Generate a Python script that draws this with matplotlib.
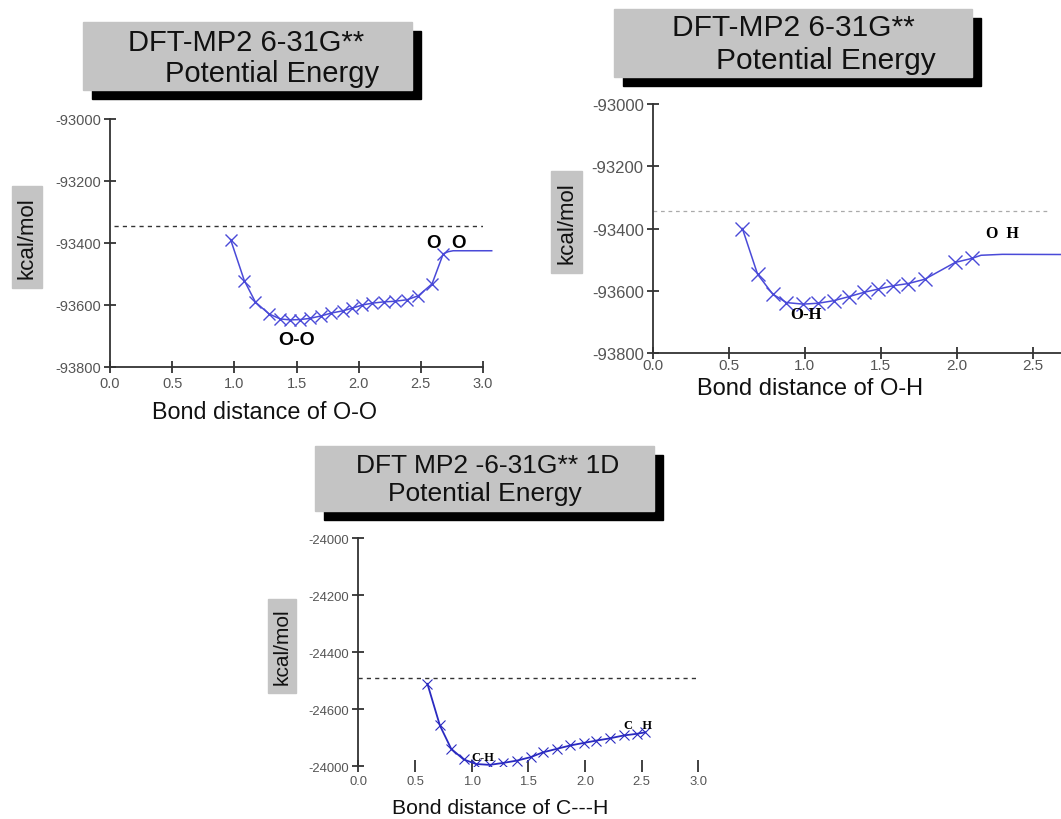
# 三个势能曲线图 (DFT-MP2 6-31G**)
import matplotlib
matplotlib.use("Agg")
from matplotlib import pyplot as plt
from matplotlib.patches import Rectangle

plt.rcParams['font.family'] = ['Liberation Sans', 'DejaVu Sans']

# O-O 键
oo_x = [0.97, 1.08, 1.17, 1.28, 1.37, 1.45, 1.53, 1.61, 1.70, 1.78, 1.87, 1.95,
        2.03, 2.11, 2.20, 2.29, 2.39, 2.48, 2.59, 2.68]
oo_y = [-93389, -93521, -93591, -93629, -93645, -93648, -93647, -93643, -93635,
        -93626, -93619, -93610, -93600, -93594, -93590, -93588, -93583, -93570,
        -93532, -93435]
oo_tail_x = [2.68, 2.72, 2.76, 3.07]
oo_tail_y = [-93435, -93428, -93425, -93425]
oo_dash = -93345

# O-H 键
oh_x = [0.59, 0.69, 0.79, 0.88, 0.99, 1.09, 1.19, 1.29, 1.39, 1.48, 1.58, 1.68,
        1.79, 1.99, 2.10]
oh_y = [-93400, -93547, -93611, -93638, -93643, -93640, -93632, -93619, -93605,
        -93595, -93584, -93577, -93563, -93509, -93496]
oh_tail_x = [2.10, 2.16, 2.30, 3.0]
oh_tail_y = [-93496, -93486, -93483, -93484]
oh_dash = -93344

# C-H 键
ch_x = [0.61, 0.72, 0.82, 0.93, 1.04, 1.16, 1.28, 1.40, 1.52, 1.63, 1.75, 1.87,
        1.99, 2.10, 2.22, 2.34, 2.46, 2.53]
ch_y = [-24511, -24657, -24739, -24776, -24792, -24795, -24788, -24780, -24768,
        -24751, -24739, -24727, -24718, -24710, -24702, -24692, -24686, -24681]
ch_dash = -24491

x_ticks = [0.0, 0.5, 1.0, 1.5, 2.0, 2.5, 3.0]
x_tick_labels = ["0.0", "0.5", "1.0", "1.5", "2.0", "2.5", "3.0"]
o_y_ticks = [-93800, -93600, -93400, -93200, -93000]
o_y_labels = ["-93800", "-93600", "-93400", "-93200", "-93000"]
c_y_ticks = [-24800, -24600, -24400, -24200, -24000]
c_y_labels = ["-24000", "-24600", "-24400", "-24200", "-24000"]

W, H = 1061, 820
fig = plt.figure(figsize=(W / 100, H / 100), dpi=100)


def px(x, y):
    # 像素坐标 -> figure 坐标
    return x / W, 1 - y / H


def title_box(x0, y0, x1, y1, lines, size):
    # 灰色标题框 + 黑色阴影
    sx, sy = 9, 9
    fig.patches.append(Rectangle(px(x0 + sx, y1 + sy), (x1 - x0) / W, (y1 - y0) / H,
                                 transform=fig.transFigure, color='black', zorder=1))
    fig.patches.append(Rectangle(px(x0, y1), (x1 - x0) / W, (y1 - y0) / H,
                                 transform=fig.transFigure, color='#c4c4c4', zorder=2))
    for text, cx, cy in lines:
        fx, fy = px(cx, cy)
        fig.text(fx, fy, text, ha='center', va='center', fontsize=size,
                 color='#111111', zorder=3)


def ylabel_box(x0, y0, x1, y1, size):
    fig.patches.append(Rectangle(px(x0, y1), (x1 - x0) / W, (y1 - y0) / H,
                                 transform=fig.transFigure, color='#c4c4c4', zorder=1))
    fx, fy = px((x0 + x1) / 2, (y0 + y1) / 2)
    fig.text(fx, fy, "kcal/mol", rotation=90, ha='center', va='center',
             fontsize=size, color='#111111', zorder=3)


def style_axes(ax, yticks, ylabels, tick_size, bottom=True, nx=7):
    ax.set_facecolor('none')
    for s in ['top', 'right']:
        ax.spines[s].set_visible(False)
    ax.spines['left'].set_color('#333333')
    ax.spines['left'].set_linewidth(1.3)
    ax.spines['bottom'].set_color('#333333')
    ax.spines['bottom'].set_linewidth(1.3)
    if not bottom:
        ax.spines['bottom'].set_visible(False)
    ax.set_xlim(0, 3)
    ax.set_ylim(yticks[0], yticks[-1])
    ax.set_xticks(x_ticks[:nx], x_tick_labels[:nx])
    ax.set_yticks(yticks, ylabels)
    ax.tick_params(direction='inout', length=9, width=1.3, color='#333333',
                   labelcolor='#555555', labelsize=tick_size, pad=2)


# 图1: O-O
ax1 = fig.add_axes([110 / W, 1 - 368 / H, 373 / W, 248 / H])
style_axes(ax1, o_y_ticks, o_y_labels, 10.5)
ax1.axhline(oo_dash, xmin=0.01, xmax=1.0, color='#333333', ls=(0, (3, 3)), lw=1)
ax1.plot(oo_x, oo_y, color='#4a4ad8', lw=1.1, marker='x', ms=9, mew=1.0, clip_on=False)
ax1.plot(oo_tail_x, oo_tail_y, color='#4a4ad8', lw=1.1, clip_on=False)
ax1.text(2.71, -93397, "O  O", ha='center', va='center', fontsize=13.5, fontweight='bold')
ax1.text(1.50, -93710, "O-O", ha='center', va='center', fontsize=14, fontweight='bold')
fx, fy = px(265, 413)
fig.text(fx, fy, "Bond distance of O-O", ha='center', va='center', fontsize=16.8, color='#111111')
title_box(83, 23, 412, 91, [("DFT-MP2 6-31G**", 246, 43),
                            ("Potential Energy", 272, 74)], 21)
ylabel_box(12, 187, 42, 289, 16)

# 图2: O-H
ax2 = fig.add_axes([652.7 / W, 1 - 354 / H, 456 / W, 249 / H])
style_axes(ax2, o_y_ticks, o_y_labels, 12, nx=6)
ax2.tick_params(axis='x', labelsize=11, pad=-1)
ax2.axhline(oh_dash, xmin=0.0, xmax=0.87, color='#aaaaaa', ls=(0, (3, 3)), lw=0.9)
ax2.plot(oh_x, oh_y, color='#4a4ad8', lw=1.1, marker='x', ms=10, mew=1.0)
ax2.plot(oh_tail_x, oh_tail_y, color='#4a4ad8', lw=1.1)
ax2.text(2.30, -93415, "O  H", ha='center', va='center', fontsize=11.5, fontweight='bold',
         family='Liberation Serif')
ax2.text(1.01, -93675, "O-H", ha='center', va='center', fontsize=12, fontweight='bold',
         family='Liberation Serif')
fx, fy = px(810, 389)
fig.text(fx, fy, "Bond distance of O-H", ha='center', va='center', fontsize=17, color='#111111')
title_box(614, 10, 972, 78, [("DFT-MP2 6-31G**", 793, 28),
                             ("Potential Energy", 826, 61)], 21.5)
ylabel_box(551, 172, 582, 274, 16)

# 图3: C-H
ax3 = fig.add_axes([358.3 / W, 1 - 767.3 / H, 340 / W, 228.3 / H])
style_axes(ax3, c_y_ticks, c_y_labels, 9.4, bottom=False)
ax3.axhline(ch_dash, xmin=0.0, xmax=1.0, color='#333333', ls=(0, (3, 3)), lw=1)
ax3.plot(ch_x, ch_y, color='#2a2ac0', lw=1.3, marker='x', ms=7, mew=0.8)
ax3.text(1.10, -24767, "C-H", ha='center', va='center', fontsize=9, fontweight='bold',
         family='Liberation Serif')
ax3.text(2.47, -24655, "C   H", ha='center', va='center', fontsize=9, fontweight='bold',
         family='Liberation Serif')
fx, fy = px(500, 809)
fig.text(fx, fy, "Bond distance of C---H", ha='center', va='center', fontsize=15.3, color='#111111')
title_box(315, 447, 654, 512, [("DFT MP2 -6-31G** 1D", 488, 466),
                               ("Potential Energy", 485, 494)], 19)
ylabel_box(268, 600, 296, 694, 15)

fig.savefig("out.png", dpi=100)
